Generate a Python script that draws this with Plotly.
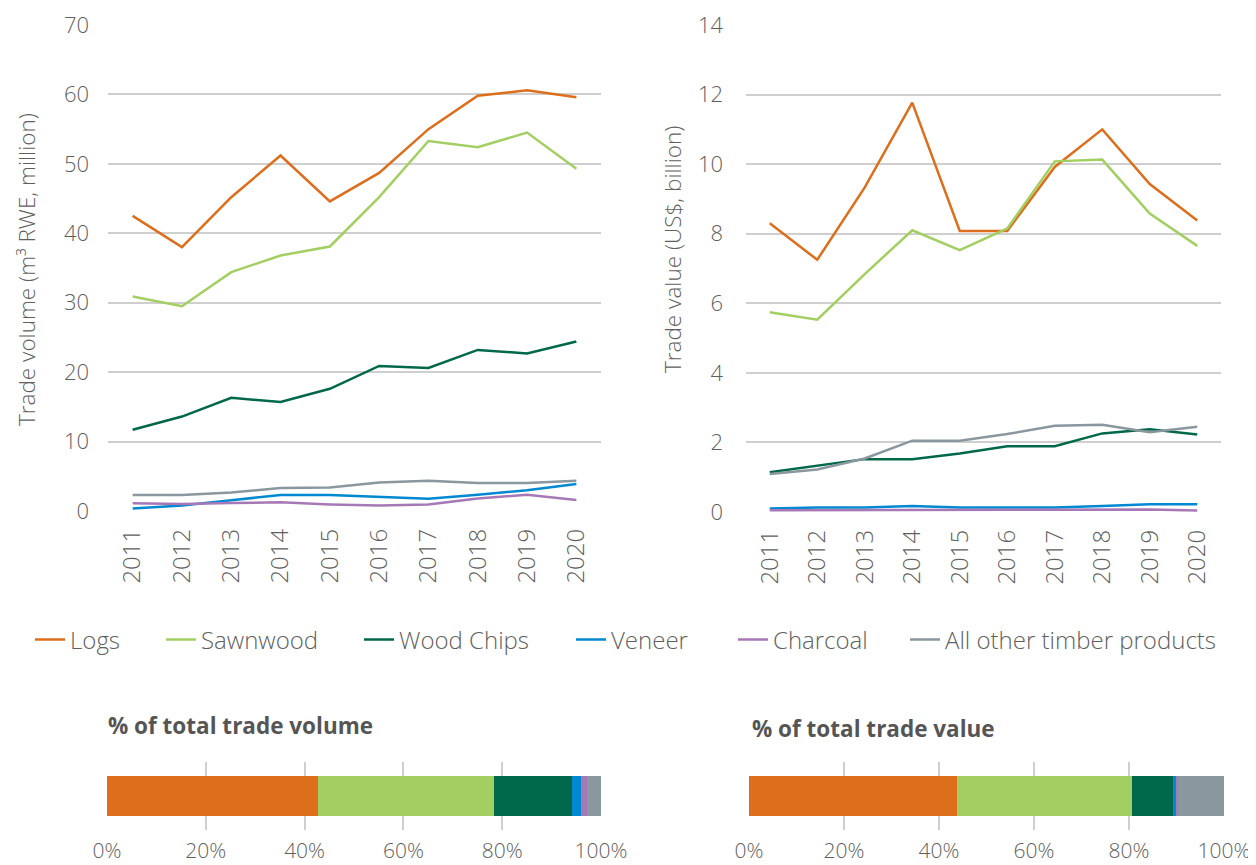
import plotly.graph_objects as go

years = ["2011", "2012", "2013", "2014", "2015", "2016", "2017", "2018", "2019", "2020"]
series_names = ["Logs", "Sawnwood", "Wood Chips", "Veneer", "Charcoal", "All other timber products"]
colors = ["#DD6E1C", "#A3CF62", "#00684A", "#0089D1", "#A678B5", "#8A979E"]

# Trade volume (m3 RWE, million)
vol_logs = [42.5, 38.0, 45.2, 51.2, 44.6, 48.7, 55.0, 59.8, 60.6, 59.6]
vol_sawnwood = [30.9, 29.5, 34.4, 36.8, 38.1, 45.2, 53.3, 52.4, 54.5, 49.3]
vol_chips = [11.7, 13.6, 16.3, 15.7, 17.6, 20.9, 20.6, 23.2, 22.7, 24.4]
vol_veneer = [0.35, 0.8, 1.55, 2.3, 2.3, 2.0, 1.75, 2.35, 3.0, 3.9]
vol_charcoal = [1.1, 1.0, 1.15, 1.25, 0.95, 0.8, 0.95, 1.8, 2.35, 1.6]
vol_other = [2.3, 2.3, 2.65, 3.3, 3.4, 4.1, 4.35, 4.05, 4.05, 4.35]

# Trade value (US$, billion)
val_logs = [8.30, 7.25, 9.33, 11.77, 8.08, 8.08, 9.92, 11.0, 9.43, 8.38]
val_sawnwood = [5.74, 5.53, 6.84, 8.10, 7.53, 8.15, 10.08, 10.13, 8.58, 7.65]
val_chips = [1.14, 1.32, 1.52, 1.52, 1.68, 1.89, 1.89, 2.26, 2.38, 2.23]
val_veneer = [0.10, 0.13, 0.13, 0.17, 0.13, 0.13, 0.13, 0.17, 0.22, 0.22]
val_charcoal = [0.05, 0.05, 0.05, 0.05, 0.05, 0.05, 0.05, 0.07, 0.07, 0.04]
val_other = [1.09, 1.22, 1.54, 2.05, 2.05, 2.24, 2.48, 2.51, 2.29, 2.45]

# Shares of total (%)
share_volume = [42.8, 35.6, 15.8, 1.7, 1.2, 2.9]
share_value = [43.8, 36.9, 8.6, 0.8, 0.3, 9.6]

vol_series = [vol_logs, vol_sawnwood, vol_chips, vol_veneer, vol_charcoal, vol_other]
val_series = [val_logs, val_sawnwood, val_chips, val_veneer, val_charcoal, val_other]

FONT = "Open Sans"
TXT = "#5F5F5F"
GRID = "#CFCFCF"
OFF = 8  # page body margin in the browser
W, H = 1256 - OFF, 865 - OFF

def px_x(p):
    return (p - OFF) / W

def px_y(p):
    return 1 - (p - OFF) / H

legend_ids = ["legend", "legend2", "legend3", "legend4", "legend5", "legend6"]
legend_text_x = [72, 203, 401, 613, 775, 947]

fig = go.Figure()

for name, col, ys, lid in zip(series_names, colors, vol_series, legend_ids):
    fig.add_trace(go.Scatter(x=years, y=ys, mode="lines", name=name,
                             line=dict(color=col, width=2.5),
                             xaxis="x", yaxis="y", legend=lid, legendgroup=name))
for name, col, ys in zip(series_names, colors, val_series):
    fig.add_trace(go.Scatter(x=years, y=ys, mode="lines", name=name,
                             line=dict(color=col, width=2.5), showlegend=False,
                             xaxis="x2", yaxis="y2", legendgroup=name))
for name, col, v in zip(series_names, colors, share_volume):
    fig.add_trace(go.Bar(x=[v], y=[0], orientation="h", marker=dict(color=col, line=dict(width=0)),
                         width=0.59, showlegend=False, xaxis="x3", yaxis="y3", hoverinfo="x+name", name=name))
for name, col, v in zip(series_names, colors, share_value):
    fig.add_trace(go.Bar(x=[v], y=[0], orientation="h", marker=dict(color=col, line=dict(width=0)),
                         width=0.59, showlegend=False, xaxis="x4", yaxis="y4", hoverinfo="x+name", name=name))

ytickfont = dict(family=FONT, size=22, color=TXT, weight=300)
xtickfont = dict(family=FONT, size=24, color=TXT, weight=300)
bartickfont = dict(family=FONT, size=21, color=TXT, weight=300)
cat_range = [-0.5, len(years) - 0.5]

layout = dict(
    width=W, height=H,
    margin=dict(l=0, r=0, t=0, b=0),
    paper_bgcolor="white", plot_bgcolor="white",
    barmode="stack",
    font=dict(family=FONT, color=TXT),
    xaxis=dict(domain=[px_x(108), px_x(601)], type="category", range=cat_range, tickangle=-90,
               tickfont=xtickfont, showgrid=False, showline=False, ticks="",
               automargin=False, ticklabelstandoff=12),
    yaxis=dict(domain=[px_y(511), px_y(25)], range=[0, 70], dtick=10, tickfont=ytickfont,
               gridcolor=GRID, gridwidth=2, zeroline=False, ticks="",
               automargin=False, ticklabelstandoff=18),
    xaxis2=dict(domain=[px_x(746), px_x(1221)], type="category", range=cat_range, tickangle=-90,
                tickfont=xtickfont, showgrid=False, showline=False, ticks="", anchor="y2",
                automargin=False, ticklabelstandoff=12),
    yaxis2=dict(domain=[px_y(512), px_y(25)], range=[0, 14], dtick=2, tickfont=ytickfont,
                gridcolor=GRID, gridwidth=2, zeroline=False, ticks="", anchor="x2",
                automargin=False, ticklabelstandoff=22),
    xaxis3=dict(domain=[px_x(107), px_x(601)], range=[0, 100], dtick=20, ticksuffix="%",
                tickfont=bartickfont, gridcolor=GRID, gridwidth=2,
                zeroline=False, showline=False, ticks="", anchor="y3",
                automargin=False, ticklabelstandoff=6),
    yaxis3=dict(domain=[px_y(830), px_y(762)], range=[-0.5, 0.5], showticklabels=False,
                showgrid=False, zeroline=False, anchor="x3", automargin=False),
    xaxis4=dict(domain=[px_x(749), px_x(1224)], range=[0, 100], dtick=20, ticksuffix="%",
                tickfont=bartickfont, gridcolor=GRID, gridwidth=2,
                zeroline=False, showline=False, ticks="", anchor="y4",
                automargin=False, ticklabelstandoff=6),
    yaxis4=dict(domain=[px_y(830), px_y(762)], range=[-0.5, 0.5], showticklabels=False,
                showgrid=False, zeroline=False, anchor="x4", automargin=False),
    annotations=[
        dict(text="Trade volume (m³ RWE, million)", textangle=-90, x=px_x(27), y=px_y(270),
             xref="paper", yref="paper", xanchor="center", yanchor="middle", showarrow=False,
             font=dict(family=FONT, size=22.5, color=TXT, weight=300)),
        dict(text="Trade value (US$, billion)", textangle=-90, x=px_x(672), y=px_y(250),
             xref="paper", yref="paper", xanchor="center", yanchor="middle", showarrow=False,
             font=dict(family=FONT, size=22.5, color=TXT, weight=300)),
        dict(text="<b>% of total trade volume</b>", x=px_x(106), y=px_y(725), xref="paper", yref="paper",
             xanchor="left", yanchor="middle", showarrow=False,
             font=dict(family=FONT, size=22.5, color="#555555")),
        dict(text="<b>% of total trade value</b>", x=px_x(750), y=px_y(728), xref="paper", yref="paper",
             xanchor="left", yanchor="middle", showarrow=False,
             font=dict(family=FONT, size=22.5, color="#555555")),
    ],
)

for lid, tx in zip(legend_ids, legend_text_x):
    layout[lid] = dict(orientation="h", x=px_x(tx - 42), xanchor="left", y=px_y(640), yanchor="middle",
                       font=dict(family=FONT, size=24, color=TXT, weight=300),
                       bgcolor="rgba(0,0,0,0)", borderwidth=0)

fig.update_layout(**layout)
fig.write_html("out.html")
